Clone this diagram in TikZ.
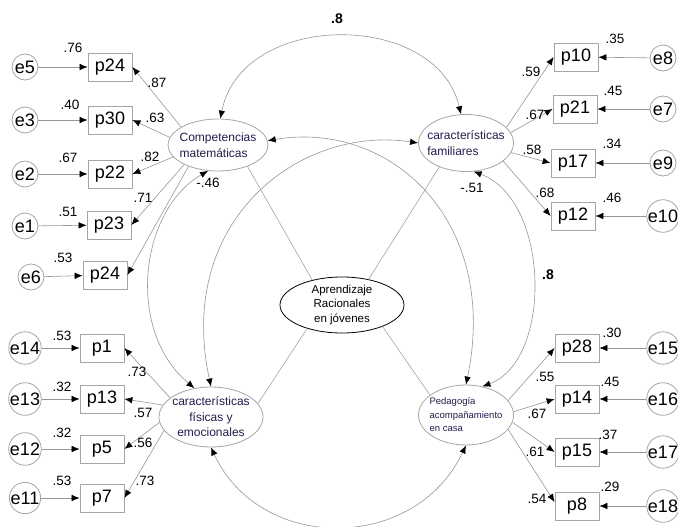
\documentclass[tikz,border=0pt]{standalone}
\usepackage{fontspec}
\setmainfont{Liberation Sans}
\usetikzlibrary{arrows.meta,shapes.geometric}
\definecolor{linegray}{RGB}{150,150,150}
\definecolor{boxgray}{RGB}{165,165,165}
\definecolor{lattext}{RGB}{30,30,75}

\begin{document}
\begin{tikzpicture}
    [x=1pt,y=-1pt,
     obs/.style={draw=boxgray,line width=0.8pt,minimum width=44pt,minimum height=28pt,inner sep=0pt,font=\fontsize{18}{18}\selectfont},
     err/.style={circle,draw=boxgray,line width=0.8pt,minimum size=26pt,inner sep=0pt,font=\fontsize{18}{18}\selectfont},
     lat/.style={ellipse,draw=boxgray,line width=0.8pt,inner sep=-15pt,text=lattext},
     val/.style={inner sep=0pt,font=\fontsize{13.5}{13.5}\selectfont},
     bval/.style={inner sep=0pt,font=\bfseries\fontsize{14}{14}\selectfont},
     regr/.style={draw=linegray,line width=0.6pt,-{Latex[length=8pt,width=6.5pt,color=black]}},
     cov/.style={draw=linegray,line width=0.6pt,{Latex[length=8pt,width=6.5pt,color=black]}-{Latex[length=8pt,width=6.5pt,color=black]}},
     link/.style={draw=linegray,line width=0.5pt}]
  \useasboundingbox (0,0) rectangle (678,527);

  % latent variables
  \node[lat,minimum width=100pt,minimum height=52pt,align=left,font=\fontsize{12}{16}\selectfont] (comp) at (218,145) {Competencias\\matemáticas};
  \node[lat,minimum width=95pt,minimum height=57pt,align=left,font=\fontsize{12}{16}\selectfont] (fam) at (466,143) {características\\familiares};
  \node[lat,minimum width=104pt,minimum height=60pt,align=center,font=\fontsize{12}{15.5}\selectfont] (fis) at (211,417) {características\\físicas y\\emocionales};
  \node[lat,minimum width=95pt,minimum height=60pt,align=left,font=\fontsize{9.5}{13.5}\selectfont] (ped) at (466,415) {Pedagogía\\acompañamiento\\en casa};
  \node[ellipse,draw=black,line width=0.8pt,minimum width=124pt,minimum height=56pt,inner sep=-15pt,align=center,font=\fontsize{11.5}{14.5}\selectfont] (apr) at (342,305) {Aprendizaje\\Racionales\\ en jóvenes};

  % indicators and errors
  \node[obs] (p24a) at (110,67) {p24};  \node[err] (e5) at (25,67) {e5};
  \node[obs] (p30) at (110,120) {p30};  \node[err] (e3) at (25,120) {e3};
  \node[obs] (p22) at (110,174) {p22};  \node[err] (e2) at (25,174) {e2};
  \node[obs] (p23) at (109,225) {p23};  \node[err] (e1) at (25,226) {e1};
  \node[obs] (p24b) at (105,275) {p24}; \node[err] (e6) at (31,277) {e6};

  \node[obs] (p10) at (576,57) {p10};   \node[err] (e8) at (663,58) {e8};
  \node[obs] (p21) at (575,109) {p21};  \node[err] (e7) at (663,109) {e7};
  \node[obs] (p17) at (573,163) {p17};  \node[err] (e9) at (663,163) {e9};
  \node[obs] (p12) at (573,216) {p12};  \node[err] (e10) at (663,216) {e10};

  \node[obs] (p1) at (102,348) {p1};    \node[err] (e14) at (25,348) {e14};
  \node[obs] (p13) at (102,399) {p13};  \node[err] (e13) at (25,399) {e13};
  \node[obs] (p5) at (102,449) {p5};    \node[err] (e12) at (25,449) {e12};
  \node[obs] (p7) at (102,498) {p7};    \node[err] (e11) at (25,498) {e11};

  \node[obs] (p28) at (577,348) {p28};  \node[err] (e15) at (663,348) {e15};
  \node[obs] (p14) at (577,399) {p14};  \node[err] (e16) at (663,399) {e16};
  \node[obs] (p15) at (577,452) {p15};  \node[err] (e17) at (663,452) {e17};
  \node[obs] (p8) at (577,506) {p8};    \node[err] (e18) at (663,506) {e18};

  % errors
  \draw[regr] (e5) -- (p24a);  \draw[regr] (e3) -- (p30);  \draw[regr] (e2) -- (p22);
  \draw[regr] (e1) -- (p23);   \draw[regr] (e6) -- (p24b);
  \draw[regr] (e8) -- (p10);   \draw[regr] (e7) -- (p21);  \draw[regr] (e9) -- (p17);
  \draw[regr] (e10) -- (p12);
  \draw[regr] (e14) -- (p1);   \draw[regr] (e13) -- (p13); \draw[regr] (e12) -- (p5);
  \draw[regr] (e11) -- (p7);
  \draw[regr] (e15) -- (p28);  \draw[regr] (e16) -- (p14); \draw[regr] (e17) -- (p15);
  \draw[regr] (e18) -- (p8);

  % loadings
  \draw[regr] (comp.154) -- (p24a.east);
  \draw[regr] (comp.171) -- (p30.east);
  \draw[regr] (comp.195) -- (p22.east);
  \draw[regr] (comp.210) -- (p23.east);
  \draw[regr] (comp.216) -- (p24b.east);
  \draw[regr] (fam.21) -- (p10.west);
  \draw[regr] (fam.13) -- (p21.west);
  \draw[regr] (fam.-12) -- (p17.west);
  \draw[regr] (fam.-26) -- (p12.west);
  \draw[regr] (fis.155) -- (p1.east);
  \draw[regr] (fis.166) -- (p13.east);
  \draw[regr] (fis.186) -- (p5.east);
  \draw[regr] (fis.196) -- (p7.east);
  \draw[regr] (ped.19) -- (p28.west);
  \draw[regr] (ped.4) -- (p14.west);
  \draw[regr] (ped.-9) -- (p15.west);
  \draw[regr] (ped.-19) -- (p8.170);

  % links to the central variable
  \draw[link] (apr.140) -- (comp.-36);
  \draw[link] (apr.44) -- (fam.222);
  \draw[link] (apr.214) -- (fis.16);
  \draw[link] (apr.-28) -- (ped.151);

  % covariances
  \draw[cov] (comp.85) .. controls (242,10) and (437,10) .. (fam.100);
  \draw[cov] (comp.249) .. controls (140,210) and (125,330) .. (fis.120);
  \draw[cov] (fam.285) .. controls (550,200) and (553,360) .. (ped.60);
  \draw[cov] (comp.5) .. controls (390,120) and (500,220) .. (ped.north);
  \draw[cov] (fam.west) .. controls (300,125) and (175,220) .. (fis.north);
  \draw[cov] (fis.south) .. controls (260,553) and (415,553) .. (ped.south);

  % values
  \node[val] (s24a) at (73,48) {.76};   \node[val] (l24a) at (157,83) {.87};
  \node[val] (s30) at (70,105) {.40};   \node[val] (l30) at (155,118) {.63};
  \node[val] (s22) at (68,158) {.67};   \node[val] (l22) at (150,157) {.82};
  \node[val] (s23) at (68,212) {.51};   \node[val] (l23) at (143,198) {.71};
  \node[val] (s24b) at (63,258) {.53};
  \node[val] (s10) at (615,39) {.35};   \node[val] (l10) at (531,72) {.59};
  \node[val] (s21) at (613,91) {.45};   \node[val] (l21) at (535,115) {.67};
  \node[val] (s17) at (612,144) {.34};  \node[val] (l17) at (532,150) {.58};
  \node[val] (s12) at (612,198) {.46};  \node[val] (l12) at (545,193) {.68};
  \node[val] (s1) at (62,336) {.53};    \node[val] (l1) at (137,372) {.73};
  \node[val] (s13) at (62,387) {.32};   \node[val] (l13) at (143,413) {.57};
  \node[val] (s5) at (62,433) {.32};    \node[val] (l5) at (143,443) {.56};
  \node[val] (s7) at (62,481) {.53};    \node[val] (l7) at (145,481) {.73};
  \node[val] (s28) at (612,333) {.30};  \node[val] (l28) at (545,377) {.55};
  \node[val] (s14) at (610,382) {.45};  \node[val] (l14) at (537,414) {.67};
  \node[val] (s15) at (608,435) {.37};  \node[val] (l15) at (535,452) {.61};
  \node[val] (s8) at (610,487) {.29};   \node[val] (l8) at (537,499) {.54};
  \node[val] (ccf) at (208,183) {-.46};
  \node[val] (cfp) at (472,188) {-.51};
  \node[bval] (ctop) at (337,19) {.8};
  \node[bval] (cright) at (548,275) {.8};
\end{tikzpicture}
\end{document}
